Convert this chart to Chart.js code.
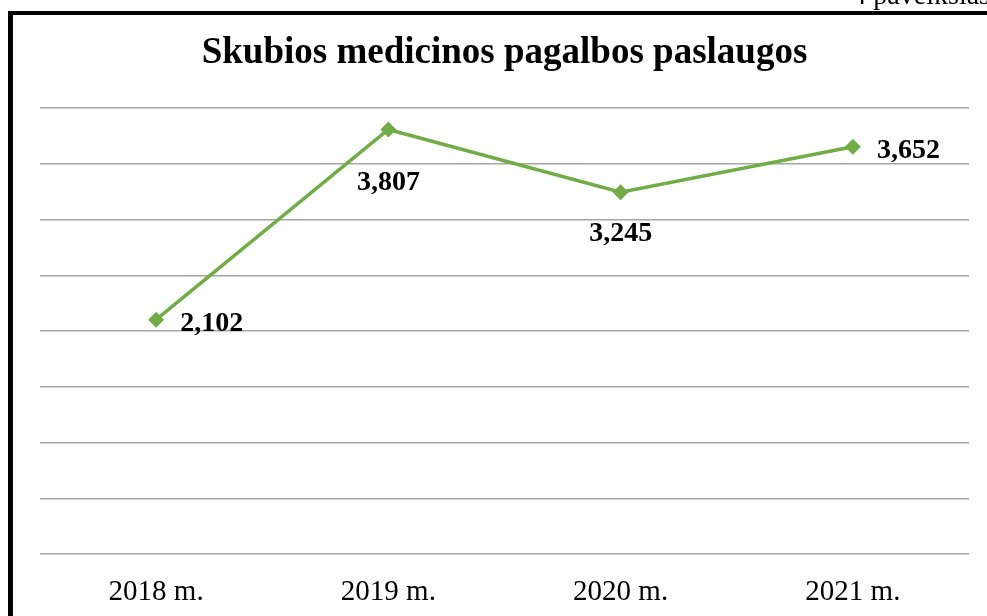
<!DOCTYPE html>
<html>
<head>
<meta charset="utf-8">
<script src="https://cdn.jsdelivr.net/npm/chart.js@4"></script>
<style>
  html, body { margin: 0; padding: 0; background: #fff; overflow: hidden; }
  #wrap { position: relative; width: 987px; height: 616px; overflow: hidden; }
  #frame { position: absolute; left: 8px; top: 11px; right: -4px; bottom: -4px;
           border-left: 5px solid #000; border-top: 4px solid #000; }
  #fig { position: absolute; right: -3px; top: -21px; font: 28px "Liberation Serif", serif; color: #000; white-space: nowrap; }
  canvas { position: absolute; left: 0; top: 0; }
</style>
</head>
<body>
<div id="wrap">
  <canvas id="chart" width="987" height="616"></canvas>
  <div id="fig">4 paveikslas</div>
  <div id="frame"></div>
</div>
<script>
const years = ['2018 m.', '2019 m.', '2020 m.', '2021 m.'];
const services = [2102, 3807, 3245, 3652];
const labelSide = ['right', 'below', 'below', 'right'];
const labelGap = [24, 53, 42, 24];

const serif = '"Liberation Serif", "Times New Roman", serif';

// value labels next to each point
const pointLabels = {
  id: 'pointLabels',
  afterDatasetsDraw(chart) {
    const ctx = chart.ctx;
    const meta = chart.getDatasetMeta(0);
    ctx.save();
    ctx.font = 'bold 28px ' + serif;
    ctx.fillStyle = '#000';
    ctx.textBaseline = 'middle';
    meta.data.forEach((pt, i) => {
      const txt = services[i].toLocaleString('en-US');
      if (labelSide[i] === 'right') {
        ctx.textAlign = 'left';
        ctx.fillText(txt, pt.x + labelGap[i], pt.y + 4);
      } else {
        ctx.textAlign = 'center';
        ctx.fillText(txt, pt.x, pt.y + labelGap[i]);
      }
    });
    ctx.restore();
  }
};

new Chart(document.getElementById('chart'), {
  type: 'line',
  data: {
    labels: years,
    datasets: [{
      data: services,
      borderColor: '#70ad47',
      backgroundColor: '#70ad47',
      borderWidth: 3.5,
      pointStyle: 'rectRot',
      pointRadius: 8,
      pointBorderWidth: 0,
      fill: false,
      tension: 0
    }]
  },
  options: {
    responsive: false,
    animation: false,
    layout: { padding: { left: 40, right: 18, top: 0, bottom: 0 } },
    plugins: {
      legend: { display: false },
      tooltip: { enabled: false },
      title: {
        display: true,
        text: 'Skubios medicinos pagalbos paslaugos',
        color: '#000',
        font: { family: serif, size: 37, weight: 'bold' },
        padding: { top: 31, bottom: 32.6 }
      }
    },
    scales: {
      x: {
        offset: true,
        grid: { display: false, drawTicks: false },
        border: { display: false },
        ticks: { color: '#000', font: { family: serif, size: 29 }, padding: 21 },
        afterFit(scale) { scale.height = 62; }
      },
      y: {
        min: 0,
        max: 4000,
        ticks: { display: false, stepSize: 500 },
        grid: { color: '#a6a6a6', lineWidth: 1.5, drawTicks: false },
        border: { display: false },
        afterFit(scale) { scale.width = 0; }
      }
    }
  },
  plugins: [pointLabels]
});
</script>
</body>
</html>
